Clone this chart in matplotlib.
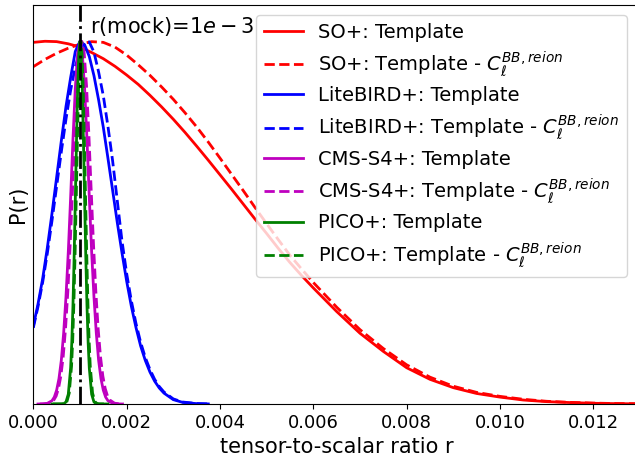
import numpy as np
import matplotlib.pyplot as plt

# r values, P(r) normalised to peak = 1
r_mock = 0.001

# SO+
r_so = [0.0, 0.00025, 0.0005, 0.00075, 0.001, 0.00125, 0.0015, 0.00175, 0.002,
        0.00225, 0.0025, 0.00275, 0.003, 0.00325, 0.0035, 0.00375, 0.004, 0.00425,
        0.0045, 0.00475, 0.005, 0.00525, 0.0055, 0.00575, 0.006, 0.0065, 0.007,
        0.0075, 0.008, 0.0085, 0.009, 0.0095, 0.010, 0.0105, 0.011, 0.0115, 0.012,
        0.0125, 0.013]
p_so_tmpl = [0.997, 1.0, 0.999, 0.993, 0.984, 0.969, 0.952, 0.931, 0.907,
             0.881, 0.851, 0.819, 0.785, 0.749, 0.711, 0.672, 0.632, 0.592,
             0.551, 0.51, 0.47, 0.429, 0.39, 0.354, 0.32, 0.255, 0.195,
             0.145, 0.10, 0.068, 0.045, 0.029, 0.019, 0.011, 0.0065, 0.004, 0.002,
             0.001, 0.0005]
p_so_nore = [0.93, 0.95, 0.967, 0.981, 0.992, 0.999, 0.997, 0.984, 0.962,
             0.935, 0.906, 0.874, 0.84, 0.803, 0.764, 0.722, 0.678, 0.633,
             0.588, 0.542, 0.497, 0.453, 0.41, 0.372, 0.335, 0.267, 0.205,
             0.153, 0.108, 0.074, 0.049, 0.032, 0.021, 0.013, 0.0075, 0.0045, 0.0025,
             0.0012, 0.0006]

# LiteBIRD+
r_lb = [0.0, 0.0001, 0.0002, 0.0003, 0.0004, 0.0005, 0.0006, 0.0007, 0.0008, 0.0009,
        0.001, 0.0011, 0.0012, 0.0013, 0.0014, 0.0015, 0.0016, 0.0017, 0.0018, 0.0019,
        0.002, 0.0021, 0.0022, 0.0023, 0.0024, 0.0025, 0.0026, 0.0027, 0.0028,
        0.003, 0.0032, 0.0035, 0.00375]
p_lb_tmpl = [0.215, 0.275, 0.345, 0.43, 0.525, 0.625, 0.725, 0.82, 0.9, 0.972,
             1.0, 0.99, 0.958, 0.905, 0.838, 0.763, 0.677, 0.589, 0.50, 0.417,
             0.339, 0.27, 0.211, 0.16, 0.12, 0.088, 0.063, 0.044, 0.03,
             0.012, 0.0045, 0.001, 0.0002]
p_lb_nore = [0.21, 0.268, 0.335, 0.415, 0.505, 0.6, 0.695, 0.785, 0.865, 0.93,
             0.975, 0.997, 0.998, 0.97, 0.915, 0.85, 0.765, 0.67, 0.56, 0.45,
             0.36, 0.285, 0.222, 0.17, 0.128, 0.095, 0.068, 0.048, 0.033,
             0.014, 0.0055, 0.0012, 0.0002]

# CMS-S4+
r_s4 = [0.0001, 0.0002, 0.0003, 0.0004, 0.00045, 0.0005, 0.00055, 0.0006, 0.00065, 0.0007,
        0.00075, 0.0008, 0.00085, 0.0009, 0.00095, 0.001, 0.00105, 0.0011, 0.00115,
        0.0012, 0.00125, 0.0013, 0.00135, 0.0014, 0.00145, 0.0015, 0.00155, 0.0016,
        0.0017, 0.0018, 0.0019]
p_s4_tmpl = [0.0, 0.0003, 0.0018, 0.009, 0.019, 0.038, 0.07, 0.12, 0.195, 0.295,
             0.42, 0.57, 0.73, 0.87, 0.966, 1.0, 0.966, 0.87, 0.73,
             0.57, 0.42, 0.295, 0.195, 0.12, 0.07, 0.038, 0.019, 0.009,
             0.0018, 0.0003, 0.0]
r_s4_d = [0.00014, 0.00024, 0.00034, 0.00044, 0.00049, 0.00054, 0.00059, 0.00064, 0.00069,
          0.00074, 0.00079, 0.00084, 0.00089, 0.00094, 0.00099, 0.00104, 0.00109, 0.00114,
          0.00119, 0.00124, 0.00129, 0.00134, 0.00139, 0.00144, 0.00149, 0.00154, 0.00159,
          0.00164, 0.00174, 0.00184, 0.00194]
p_s4_nore = [0.0, 0.0004, 0.0023, 0.011, 0.022, 0.043, 0.077, 0.13, 0.207,
             0.31, 0.44, 0.59, 0.745, 0.878, 0.968, 1.0, 0.968, 0.878,
             0.745, 0.59, 0.44, 0.31, 0.207, 0.13, 0.077, 0.043, 0.022,
             0.011, 0.0023, 0.0004, 0.0]

# PICO+
r_pico = [0.0004, 0.0006, 0.00065, 0.0007, 0.00075, 0.0008, 0.000825, 0.00085, 0.000875,
          0.0009, 0.000925, 0.00095, 0.000975, 0.001, 0.001025, 0.00105, 0.001075,
          0.0011, 0.001125, 0.00115, 0.001175, 0.0012, 0.00125, 0.0013, 0.00135,
          0.0014, 0.0016]
p_pico_tmpl = [0.0, 0.0001, 0.0008, 0.0055, 0.027, 0.099, 0.17, 0.272, 0.405,
               0.561, 0.722, 0.865, 0.965, 1.0, 0.965, 0.865, 0.722,
               0.561, 0.405, 0.272, 0.17, 0.099, 0.027, 0.0055, 0.0008,
               0.0001, 0.0]
r_pico_d = [0.00042, 0.00062, 0.00067, 0.00072, 0.00077, 0.00082, 0.000845, 0.00087, 0.000895,
            0.00092, 0.000945, 0.00097, 0.000995, 0.00102, 0.001045, 0.00107, 0.001095,
            0.00112, 0.001145, 0.00117, 0.001195, 0.00122, 0.00127, 0.00132, 0.00137,
            0.00142, 0.00162]
p_pico_nore = [0.0, 0.0002, 0.001, 0.0065, 0.03, 0.105, 0.178, 0.28, 0.413,
               0.567, 0.727, 0.868, 0.966, 1.0, 0.966, 0.868, 0.727,
               0.567, 0.413, 0.28, 0.178, 0.105, 0.03, 0.0065, 0.001,
               0.0002, 0.0]

xticks = [0.0, 0.002, 0.004, 0.006, 0.008, 0.010, 0.012]
reion = r' - $C_{\ell}^{BB, reion}$'

fig = plt.figure(figsize=(6.35, 4.59), dpi=100)
ax = fig.add_axes([33.3 / 635, 55 / 459, 606.7 / 635, 399 / 459])

ax.plot(r_so, p_so_tmpl, 'r-', lw=2, label='SO+: Template')
ax.plot(r_so, p_so_nore, 'r--', lw=2, label='SO+: Template' + reion)
ax.plot(r_lb, p_lb_tmpl, 'b-', lw=2, label='LiteBIRD+: Template')
ax.plot(r_lb, p_lb_nore, 'b--', lw=2, label='LiteBIRD+: Template' + reion)
ax.plot(r_s4, p_s4_tmpl, 'm-', lw=2, label='CMS-S4+: Template')
ax.plot(r_s4_d, p_s4_nore, 'm--', lw=2, label='CMS-S4+: Template' + reion)
ax.plot(r_pico, p_pico_tmpl, 'g-', lw=2, label='PICO+: Template')
ax.plot(r_pico_d, p_pico_nore, 'g--', lw=2, label='PICO+: Template' + reion)

ax.axvline(r_mock, color='k', ls='-.', lw=2)
ax.text(0.00121, 1.023, r'r(mock)=$1e-3$', fontsize=15)

ax.set_xlim(0, 0.013)
ax.set_ylim(0, 1.1)
ax.set_yticks([])
ax.set_xticks(xticks)
ax.set_xticklabels(['%.3f' % t for t in xticks], fontsize=13)
ax.set_xlabel('tensor-to-scalar ratio r', fontsize=15)
ax.set_ylabel('P(r)', fontsize=15)
ax.legend(loc='upper right', bbox_to_anchor=(0.995, 1.0), fontsize=14, labelspacing=0.38)

fig.savefig('out.png', dpi=100)
